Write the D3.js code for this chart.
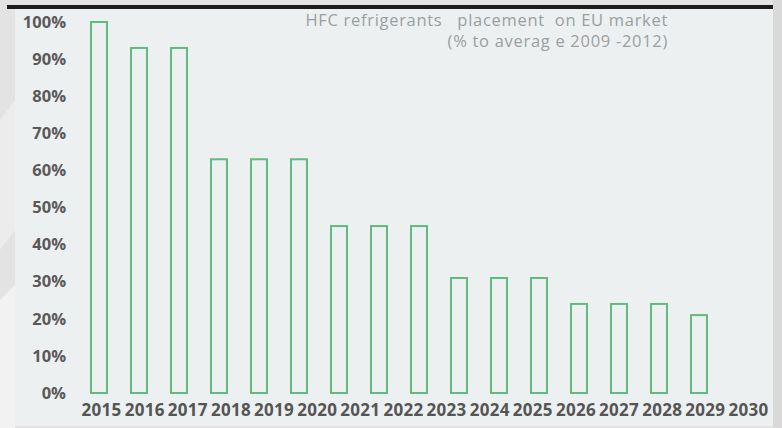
<!DOCTYPE html>
<html>
<head>
<meta charset="utf-8">
<script src="https://cdn.jsdelivr.net/npm/d3@7"></script>
<style>
  body { margin: 0; background: #e4e4e4; }
  svg { display: block; }
  text { font-family: "Open Sans", "Noto Sans", sans-serif; }
</style>
</head>
<body>
<div id="chart"></div>
<script>
// HFC phase-down steps, % of 2009-2012 average
var years = ["2015","2016","2017","2018","2019","2020","2021","2022","2023","2024","2025","2026","2027","2028","2029","2030"];
var quota = [100, 93, 93, 63, 63, 63, 45, 45, 45, 31, 31, 31, 24, 24, 24, 21];
var yTicks = [0, 10, 20, 30, 40, 50, 60, 70, 80, 90, 100];
var titleLines = ["HFC refrigerants   placement  on EU market", "(% to averag e 2009 -2012)"];

(function() {
	var width = 782, height = 428;

	var svg = d3.select("#chart")
				.append("svg")
				.attr("width", width)
				.attr("height", height);

	// page background around the panel
	svg.append("rect")
		.attr("width", width).attr("height", height)
		.attr("fill", "#e3e3e3");
	svg.append("polygon")
		.attr("points", "0,300 15,285 15,428 0,428")
		.attr("fill", "#f2f2f2");
	svg.append("polygon")
		.attr("points", "0,120 15,100 15,230 0,250")
		.attr("fill", "#ececec");
	svg.append("rect")
		.attr("x", 773).attr("y", 0).attr("width", 9).attr("height", height)
		.attr("fill", "#d9d9d9");

	// panel
	svg.append("rect")
		.attr("x", 15).attr("y", 9)
		.attr("width", 758).attr("height", 417)
		.attr("fill", "#edf0f1");
	svg.append("rect")
		.attr("x", 7).attr("y", 5)
		.attr("width", 766).attr("height", 4)
		.attr("fill", "#1e1c1d");

	// scales
	var yScale = d3.scaleLinear()
					.domain([0, 100])
					.range([393, 22]);

	var barScale = d3.scaleBand()
					.domain(years)
					.range([79, 719]);

	var labelScale = d3.scaleBand()
					.domain(years)
					.range([80, 770]);

	// bars
	svg.selectAll(".bar")
		.data(years)
		.enter()
		.append("rect")
		.attr("class", "bar")
		.attr("x", function(d) {
			return barScale(d) + barScale.bandwidth() / 2 - 8;
		})
		.attr("y", function(d, i) {
			return yScale(quota[i]);
		})
		.attr("width", 16)
		.attr("height", function(d, i) {
			return yScale(0) - yScale(quota[i]);
		})
		.attr("fill", "none")
		.attr("stroke", "#62ba80")
		.attr("stroke-width", 2);

	// y axis labels
	var yAxis = d3.axisLeft(yScale)
				.tickValues(yTicks)
				.tickSize(0)
				.tickPadding(0)
				.tickFormat(function(d) { return d + "%"; });

	var yg = svg.append("g")
		.attr("transform", "translate(66,0)")
		.call(yAxis);
	yg.select(".domain").remove();
	yg.selectAll("text")
		.attr("font-size", 16.5)
		.attr("font-weight", 700)
		.attr("fill", "#595959")
		.attr("font-family", "'Open Sans', sans-serif");

	// x axis labels
	var xAxis = d3.axisBottom(labelScale)
				.tickSize(0)
				.tickPadding(0);

	var xg = svg.append("g")
		.attr("transform", "translate(0,404)")
		.call(xAxis);
	xg.select(".domain").remove();
	xg.selectAll("text")
		.attr("font-size", 17)
		.attr("font-weight", 700)
		.attr("letter-spacing", 0.3)
		.attr("fill", "#555555")
		.attr("font-family", "'Open Sans', sans-serif");

	// title
	svg.selectAll(".title")
		.data(titleLines)
		.enter()
		.append("text")
		.attr("class", "title")
		.attr("x", 668)
		.attr("y", function(d, i) { return 26 + i * 21; })
		.attr("text-anchor", "end")
		.attr("font-size", 16.5)
		.attr("letter-spacing", 0.7)
		.attr("fill", "#9a9fa0")
		.style("white-space", "pre")
		.text(function(d) { return d; });
})();
</script>
</body>
</html>
